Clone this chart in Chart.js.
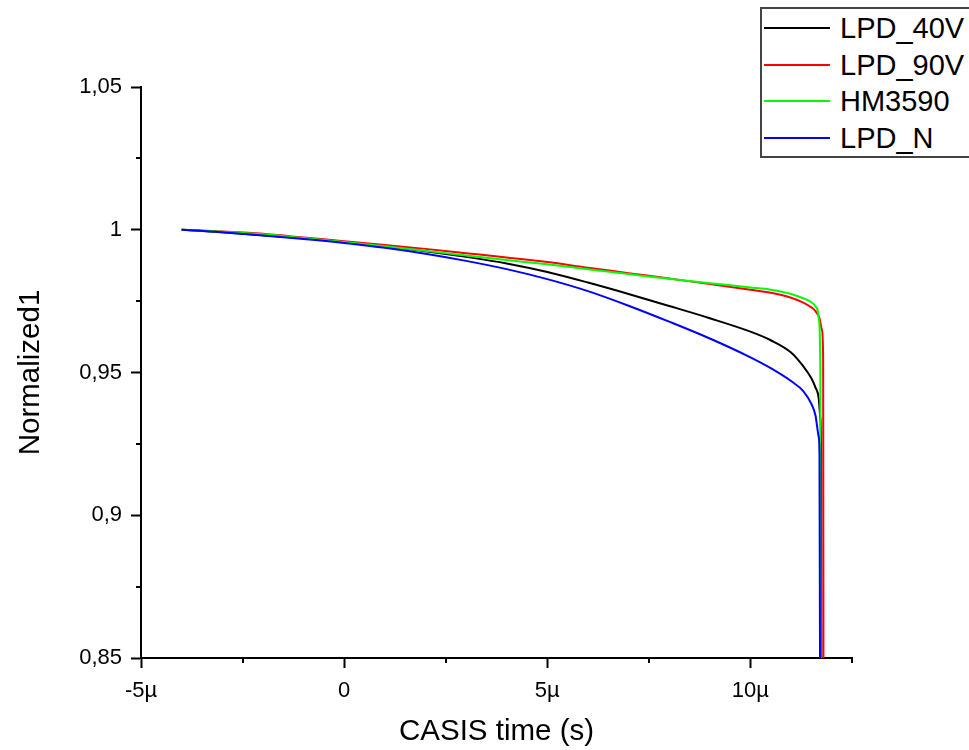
<!DOCTYPE html>
<html>
<head>
<meta charset="utf-8">
<script src="https://cdn.jsdelivr.net/npm/chart.js@4.4.1/dist/chart.umd.min.js"></script>
<style>
  html, body { margin: 0; padding: 0; background: #fff; }
  #wrap { position: relative; width: 969px; height: 750px; overflow: hidden; }
  #legend {
    position: absolute; left: 760px; top: 7px; width: 260px; height: 151px;
    border: 2px solid #444; box-sizing: border-box; background: #fff;
    font-family: 'Liberation Sans', Arial, sans-serif; font-size: 29px; color: #000;
    padding-top: 1px;
  }
  #legend .row { position: relative; height: 36.7px; }
  #legend .swatch { position: absolute; left: 2px; top: 17px; width: 66px; height: 2px; }
  #legend .label { position: absolute; left: 78px; top: 0; line-height: 36.7px; white-space: nowrap; }
</style>
</head>
<body>
<div id="wrap">
  <canvas id="chart" width="969" height="750"></canvas>
  <div id="legend"></div>
</div>
<script>
(function () {
  'use strict';

  // ---------------------------------------------------------------------------
  // Data (time in microseconds, normalized signal)
  // ---------------------------------------------------------------------------

  var SERIES_NAMES   = ['LPD_40V', 'LPD_90V', 'HM3590', 'LPD_N'];
  var SERIES_COLOURS = ['#000000', '#FF0000', '#00FF00', '#0000FF'];

  var lpd40vTime = [-4, -3, -2, -1, 0, 1, 2, 3, 4, 5, 6, 7, 8, 9, 10, 10.5, 11, 11.3, 11.5, 11.6, 11.68, 11.72, 11.74, 11.75];
  var lpd40vNorm = [1.0, 0.9991, 0.9981, 0.9970, 0.9957, 0.9942, 0.9925, 0.9905, 0.9882, 0.9852, 0.9815, 0.9775, 0.9733, 0.9690, 0.9643, 0.9613, 0.9570, 0.9522, 0.9480, 0.9448, 0.9410, 0.9340, 0.9200, 0.80];

  var lpd90vTime = [-4, -3, -2, -1, 0, 1, 2, 3, 4, 5, 6, 7, 8, 9, 10, 10.5, 11, 11.3, 11.5, 11.6, 11.7, 11.76, 11.79, 11.80];
  var lpd90vNorm = [1.0, 0.9994, 0.9986, 0.9973, 0.9960, 0.9947, 0.9933, 0.9918, 0.9903, 0.9887, 0.9867, 0.9848, 0.9829, 0.9810, 0.9790, 0.9779, 0.9762, 0.9745, 0.9728, 0.9715, 0.9690, 0.9650, 0.9550, 0.80];

  var hm3590Time = [-4, -3, -2, -1, 0, 1, 2, 3, 4, 5, 6, 7, 8, 9, 10, 10.5, 11, 11.3, 11.5, 11.6, 11.66, 11.69, 11.72, 11.73];
  var hm3590Norm = [1.0, 0.9993, 0.9984, 0.9971, 0.9957, 0.9942, 0.9926, 0.9910, 0.9894, 0.9879, 0.9862, 0.9845, 0.9828, 0.9813, 0.9798, 0.9790, 0.9775, 0.9760, 0.9746, 0.9732, 0.9715, 0.9680, 0.9500, 0.80];

  var lpdNTime = [-4, -3, -2, -1, 0, 1, 2, 3, 4, 5, 6, 7, 8, 9, 10, 10.5, 11, 11.3, 11.5, 11.6, 11.68, 11.70, 11.72];
  var lpdNNorm = [1.0, 0.9991, 0.9980, 0.9968, 0.9954, 0.9937, 0.9916, 0.9891, 0.9862, 0.9827, 0.9785, 0.9734, 0.9678, 0.9619, 0.9553, 0.9515, 0.9470, 0.9435, 0.9390, 0.9350, 0.9275, 0.9210, 0.80];

  var X_MIN = -5, X_MAX = 12.5, X_STEP = 5;
  var Y_MIN = 0.85, Y_MAX = 1.05, Y_STEP = 0.05;
  var X_MINOR = [-2.5, 2.5, 7.5, 12.5];
  var Y_MINOR = [0.875, 0.925, 0.975, 1.025];

  var FONT = "'Liberation Sans', Arial, sans-serif";

  // ---------------------------------------------------------------------------
  // Helpers
  // ---------------------------------------------------------------------------

  function toPoints(xs, ys) {
    return xs.map(function (x, i) { return { x: x, y: ys[i] }; });
  }

  function lineDataset(i, xs, ys) {
    return {
      label: SERIES_NAMES[i],
      data: toPoints(xs, ys),
      borderColor: SERIES_COLOURS[i],
      backgroundColor: SERIES_COLOURS[i],
      borderWidth: 2,
      pointRadius: 0,
      cubicInterpolationMode: 'monotone',
      order: SERIES_NAMES.length - i   // last series drawn on top, as in the source
    };
  }

  // minor ticks (half length) outside the axes
  var minorTicks = {
    id: 'minorTicks',
    afterDraw: function (chart) {
      var ctx = chart.ctx, a = chart.chartArea;
      var xs = chart.scales.x, ys = chart.scales.y;
      ctx.save();
      ctx.strokeStyle = '#000';
      ctx.lineWidth = 2;
      ctx.beginPath();
      X_MINOR.forEach(function (v) {
        var px = Math.round(xs.getPixelForValue(v));
        ctx.moveTo(px, a.bottom); ctx.lineTo(px, a.bottom + 5);
      });
      Y_MINOR.forEach(function (v) {
        var py = Math.round(ys.getPixelForValue(v));
        ctx.moveTo(a.left, py); ctx.lineTo(a.left - 5, py);
      });
      ctx.stroke();
      ctx.restore();
    }
  };

  function buildLegend() {
    var el = document.getElementById('legend');
    SERIES_NAMES.forEach(function (name, i) {
      var row = document.createElement('div');
      row.className = 'row';
      var sw = document.createElement('span');
      sw.className = 'swatch';
      sw.style.background = SERIES_COLOURS[i];
      var lb = document.createElement('span');
      lb.className = 'label';
      lb.textContent = name;
      row.appendChild(sw);
      row.appendChild(lb);
      el.appendChild(row);
    });
  }

  // ---------------------------------------------------------------------------
  // Chart
  // ---------------------------------------------------------------------------

  Chart.defaults.font.family = FONT;
  Chart.defaults.color = '#000';

  new Chart(document.getElementById('chart'), {
    type: 'line',
    data: {
      datasets: [
        lineDataset(0, lpd40vTime, lpd40vNorm),
        lineDataset(1, lpd90vTime, lpd90vNorm),
        lineDataset(2, hm3590Time, hm3590Norm),
        lineDataset(3, lpdNTime, lpdNNorm)
      ]
    },
    options: {
      responsive: false,
      animation: false,
      layout: { padding: { top: 87, right: 117, bottom: 0, left: 0 } },
      plugins: {
        legend: { display: false },
        tooltip: { enabled: false }
      },
      scales: {
        x: {
          type: 'linear',
          min: X_MIN, max: X_MAX,
          afterFit: function (s) { s.height = 92; },
          border: { display: true, color: '#000', width: 2 },
          grid: { drawOnChartArea: false, drawTicks: true, tickLength: 10, tickColor: '#000', tickWidth: 2 },
          ticks: {
            stepSize: X_STEP,
            includeBounds: false,
            maxRotation: 0,
            padding: 10,
            font: { size: 22 },
            callback: function (v) { return v === 0 ? '0' : v + 'µ'; }
          },
          title: { display: true, text: 'CASIS time (s)', font: { size: 29.5 }, padding: { top: 0, bottom: 0 } }
        },
        y: {
          type: 'linear',
          min: Y_MIN, max: Y_MAX,
          afterFit: function (s) { s.width = 141; },
          border: { display: true, color: '#000', width: 2 },
          grid: { drawOnChartArea: false, drawTicks: true, tickLength: 10, tickColor: '#000', tickWidth: 2 },
          ticks: {
            stepSize: Y_STEP,
            padding: 9,
            font: { size: 22 },
            callback: function (v) { return String(+v.toFixed(2)).replace('.', ','); }
          },
          title: { display: true, text: 'Normalized1', font: { size: 29.5 }, padding: { top: 13, bottom: 0 } }
        }
      }
    },
    plugins: [minorTicks]
  });

  buildLegend();
})();
</script>
</body>
</html>
